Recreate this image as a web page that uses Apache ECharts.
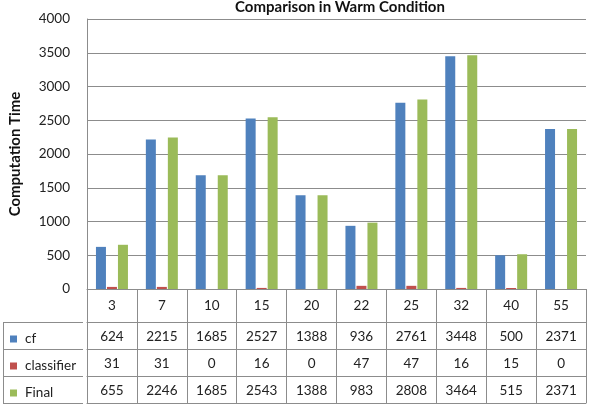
<!DOCTYPE html>
<html>
<head>
<meta charset="utf-8">
<script src="https://cdn.jsdelivr.net/npm/echarts@6/dist/echarts.min.js"></script>
<style>
  html, body { margin: 0; padding: 0; background: #fff; }
  #chart { width: 592px; height: 408px; }
</style>
</head>
<body>
<div id="chart"></div>
<script>
// 数据
const categories = ['3', '7', '10', '15', '20', '22', '25', '32', '40', '55']
const cf = [624, 2215, 1685, 2527, 1388, 936, 2761, 3448, 500, 2371]
const classifier = [31, 31, 0, 16, 0, 47, 47, 16, 15, 0]
const finalTime = [655, 2246, 1685, 2543, 1388, 983, 2808, 3464, 515, 2371]
const yMin = 0
const yMax = 4000
const yStep = 500

const seriesNames = ['cf', 'classifier', 'Final']
const seriesData = [cf, classifier, finalTime]
const colors = ['#4F81BD', '#C0504D', '#9BBB59']

const font = 'Lato, "Open Sans", sans-serif'
const lineColor = '#8c8c8c'

const chart = echarts.init(document.getElementById('chart'))

// 表格每一行用一根带偏移的x轴画
const rowAxis = (rowIdx, offset) => ({
  type: 'category',
  data: categories,
  position: 'bottom',
  offset: offset,
  axisLine: { show: true, lineStyle: { color: lineColor, width: 1 } },
  axisTick: { show: rowIdx >= 0, length: 27, lineStyle: { color: lineColor } },
  axisLabel: {
    show: rowIdx >= 0,
    margin: 8,
    color: '#222',
    fontSize: 13.5,
    fontFamily: font,
    formatter: (v, i) => rowIdx >= 0 ? String(seriesData[rowIdx][i]) : ''
  },
  splitLine: { show: false }
})

const option = {
  backgroundColor: '#fff',
  animation: false,
  title: {
    text: 'Comparison in Warm Condition',
    left: 335,
    textAlign: 'center',
    top: -5,
    textStyle: { fontSize: 15, fontWeight: 'bold', color: '#111', fontFamily: font }
  },
  legend: seriesNames.map((name, i) => ({
    data: [name],
    left: 5,
    top: 327 + i * 27,
    icon: 'rect',
    itemWidth: 7,
    itemHeight: 7,
    itemGap: 0,
    selectedMode: false,
    textStyle: { fontSize: 13.5, color: '#222', fontFamily: font, padding: [0, 0, 0, 3] }
  })),
  grid: { left: 83, right: 6, top: 19, bottom: 119, containLabel: false },
  xAxis: [
    {
      type: 'category',
      data: categories,
      axisLine: { show: true, lineStyle: { color: lineColor, width: 1 } },
      axisTick: { show: true, length: 33, lineStyle: { color: lineColor } },
      axisLabel: { margin: 10, color: '#222', fontSize: 13.5, fontFamily: font }
    },
    rowAxis(0, 33),
    rowAxis(1, 60),
    rowAxis(2, 87),
    rowAxis(-1, 114)
  ],
  yAxis: {
    type: 'value',
    min: yMin,
    max: yMax,
    interval: yStep,
    name: 'Computation Time',
    nameLocation: 'middle',
    nameGap: 64,
    nameTextStyle: { fontSize: 15, fontWeight: 'bold', color: '#111', fontFamily: font },
    axisLine: { show: true, lineStyle: { color: lineColor } },
    axisTick: { show: false },
    axisLabel: { margin: 17, color: '#222', fontSize: 13.5, fontFamily: font, formatter: v => String(v) },
    splitLine: { lineStyle: { color: lineColor, width: 1 } }
  },
  series: seriesNames.map((name, i) => ({
    name: name,
    type: 'bar',
    xAxisIndex: 0,
    data: seriesData[i],
    barWidth: 10,
    barGap: '10%',
    itemStyle: { color: colors[i] }
  })),
  // 左边图例那一列的表格线
  graphic: [
    { type: 'line', shape: { x1: 3, y1: 322.5, x2: 83, y2: 322.5 }, style: { stroke: lineColor, lineWidth: 1 } },
    { type: 'line', shape: { x1: 3, y1: 349.5, x2: 83, y2: 349.5 }, style: { stroke: lineColor, lineWidth: 1 } },
    { type: 'line', shape: { x1: 3, y1: 376.5, x2: 83, y2: 376.5 }, style: { stroke: lineColor, lineWidth: 1 } },
    { type: 'line', shape: { x1: 3, y1: 403.5, x2: 83, y2: 403.5 }, style: { stroke: lineColor, lineWidth: 1 } },
    { type: 'line', shape: { x1: 3.5, y1: 322, x2: 3.5, y2: 404 }, style: { stroke: lineColor, lineWidth: 1 } }
  ]
}

chart.setOption(option)
</script>
</body>
</html>
